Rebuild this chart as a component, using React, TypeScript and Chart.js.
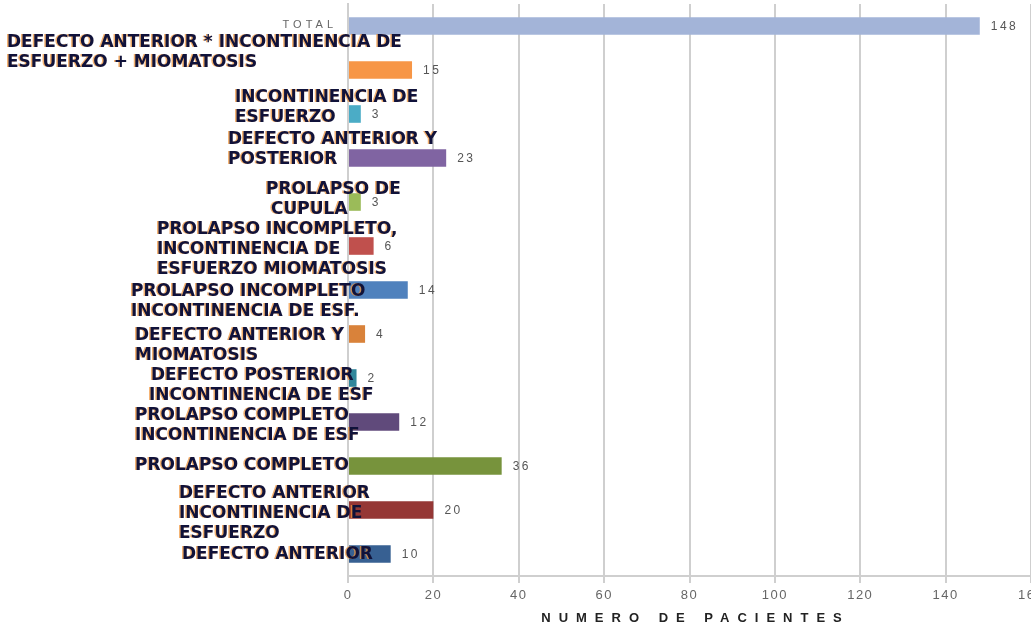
import React, { useEffect, useRef } from "react";
import { Chart, registerables } from "chart.js";

Chart.register(...registerables);

const categories: string[][] = [
  ["TOTAL"],
  ["DEFECTO ANTERIOR * INCONTINENCIA DE", "ESFUERZO + MIOMATOSIS"],
  ["INCONTINENCIA DE", "ESFUERZO"],
  ["DEFECTO ANTERIOR Y", "POSTERIOR"],
  ["PROLAPSO DE", "CUPULA"],
  ["PROLAPSO INCOMPLETO,", "INCONTINENCIA DE", "ESFUERZO MIOMATOSIS"],
  ["PROLAPSO INCOMPLETO", "INCONTINENCIA DE ESF."],
  ["DEFECTO ANTERIOR Y", "MIOMATOSIS"],
  ["DEFECTO POSTERIOR", "INCONTINENCIA DE ESF"],
  ["PROLAPSO COMPLETO", "INCONTINENCIA DE ESF"],
  ["PROLAPSO COMPLETO"],
  ["DEFECTO ANTERIOR", "INCONTINENCIA DE", "ESFUERZO"],
  ["DEFECTO ANTERIOR"],
];

const values: number[] = [148, 15, 3, 23, 3, 6, 14, 4, 2, 12, 36, 20, 10];

const barColors: string[] = [
  "#a3b4d8", "#f79646", "#4bacc6", "#8064a2", "#9bbb59", "#c0504d", "#4f81bd",
  "#d9823a", "#31869b", "#604a7b", "#77933c", "#953735", "#376092",
];

const xTicks: number[] = [0, 20, 40, 60, 80, 100, 120, 140, 160];
const axisTitle = "NUMERO DE PACIENTES";

// label block layout (left x of each line, offset of first line from bar centre)
const labelLeft: number[][] = [
  [337], [7], [235], [228], [266, 271], [157], [131], [135], [151, 149], [135], [135], [179], [182],
];
const labelDy: number[] = [-1, -27, -16, -18, -12, -16, 2, 2, -2, -6, 0, -16, 1];

const spacingPlugin = {
  id: "tickSpacing",
  beforeDraw(chart: any) {
    (chart.ctx as any).letterSpacing = "1.5px";
  },
};

const labelsPlugin = {
  id: "customLabels",
  afterDatasetsDraw(chart: any) {
    const ctx = chart.ctx;
    const y = chart.scales.y;
    const x = chart.scales.x;
    ctx.save();
    categories.forEach((lines, i) => {
      const cy = y.getPixelForValue(i) + labelDy[i];
      if (i === 0) {
        ctx.font = "11px 'Liberation Sans', Arial, sans-serif";
        (ctx as any).letterSpacing = "4px";
        ctx.fillStyle = "#666666";
        ctx.textAlign = "right";
        ctx.textBaseline = "middle";
        ctx.fillText(lines[0], labelLeft[0][0], cy);
        return;
      }
      (ctx as any).letterSpacing = "0px";
      ctx.font = "bold 17px 'DejaVu Sans', sans-serif";
      ctx.textAlign = "left";
      ctx.textBaseline = "middle";
      lines.forEach((line, j) => {
        const lx = labelLeft[i][Math.min(j, labelLeft[i].length - 1)];
        const ly = cy + j * 20;
        ctx.fillStyle = "rgba(240,150,60,0.75)";
        ctx.fillText(line, lx - 1.5, ly);
        ctx.fillStyle = "#10123a";
        ctx.fillText(line, lx, ly);
      });
    });
    // value labels
    ctx.font = "12px 'Liberation Sans', Arial, sans-serif";
    (ctx as any).letterSpacing = "2.5px";
    ctx.fillStyle = "#555555";
    ctx.textAlign = "left";
    ctx.textBaseline = "middle";
    values.forEach((v, i) => {
      ctx.fillText(String(v), x.getPixelForValue(v) + 11, y.getPixelForValue(i) + 1);
    });
    // axis title with letter spacing
    ctx.font = "bold 13px 'Liberation Sans', Arial, sans-serif";
    ctx.fillStyle = "#222222";
    ctx.textAlign = "center";
    (ctx as any).letterSpacing = "8px";
    ctx.fillText(axisTitle, (x.left + x.right) / 2 + 6, 618);
    ctx.restore();
  },
};

export default function App() {
  const ref = useRef<HTMLCanvasElement | null>(null);
  useEffect(() => {
    document.body.style.margin = "0";
    const chart = new Chart(ref.current as HTMLCanvasElement, {
      type: "bar",
      data: {
        labels: categories.map((c) => c.join(" ")),
        datasets: [
          {
            data: values,
            backgroundColor: barColors,
            barPercentage: 0.4,
            categoryPercentage: 1,
          },
        ],
      },
      options: {
        indexAxis: "y",
        animation: false,
        responsive: false,
        devicePixelRatio: 1,
        layout: { padding: { top: 4, right: 0, left: 0, bottom: 0 } },
        plugins: { legend: { display: false }, tooltip: { enabled: false } },
        scales: {
          x: {
            min: 0,
            max: 160,
            afterBuildTicks: (s: any) => {
              s.ticks = xTicks.map((v) => ({ value: v }));
            },
            afterFit: (s: any) => {
              s.height = 52;
              s.paddingRight = 0;
              s.paddingLeft = 0;
            },
            grid: { color: "#cfcfcf", lineWidth: 2, tickLength: 7, drawTicks: true },
            border: { color: "#cfcfcf", width: 2 },
            ticks: {
              color: "#666666",
              font: { size: 13, family: "'Liberation Sans', Arial, sans-serif" },
              padding: 5,
              maxRotation: 0,
            },
          },
          y: {
            afterFit: (s: any) => {
              s.width = 348;
            },
            grid: { display: false },
            border: { color: "#cfcfcf", width: 2 },
            ticks: { display: false },
          },
        },
      },
      plugins: [spacingPlugin, labelsPlugin],
    });
    return () => chart.destroy();
  }, []);
  return (
    <div style={{ width: 1031, height: 628, overflow: "hidden", background: "#fff" }}>
      <canvas ref={ref} width={1031} height={628} style={{ display: "block" }} />
    </div>
  );
}
